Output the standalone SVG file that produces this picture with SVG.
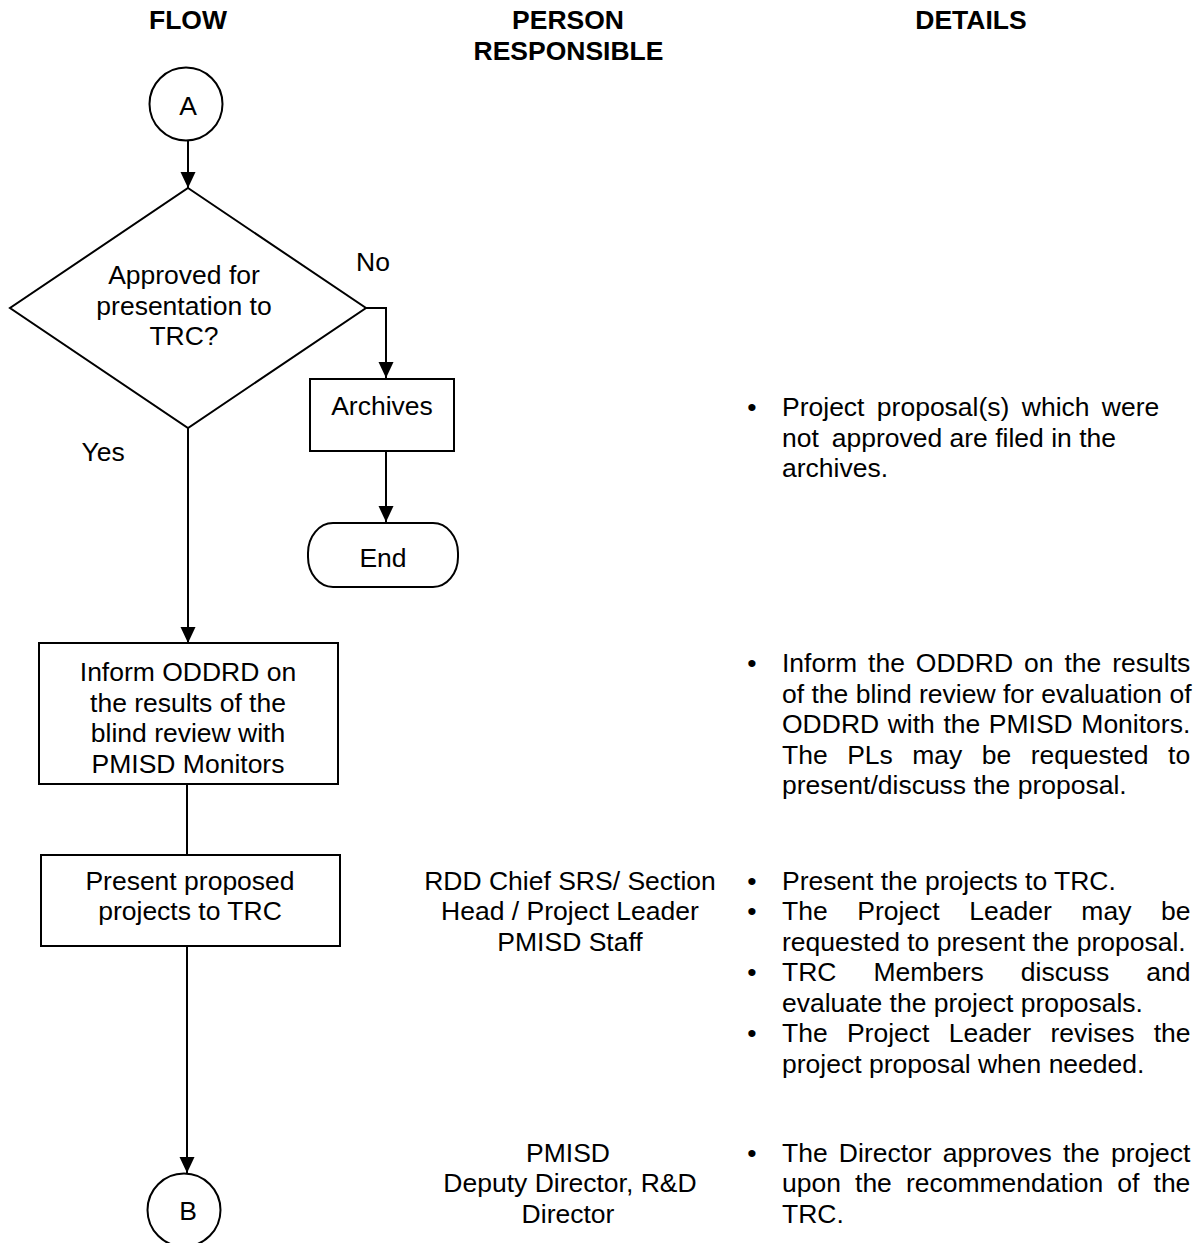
<svg xmlns="http://www.w3.org/2000/svg" width="1201" height="1243" viewBox="0 0 1201 1243">
  <style>
    .t { font-family: "Liberation Sans", Arial, sans-serif; font-size: 26.5px; fill: #000; }
    .c { text-anchor: middle; }
    .h { font-weight: bold; }
    .shape { fill: #fff; stroke: #000; stroke-width: 2; }
    .edge { fill: none; stroke: #000; stroke-width: 2; }
  </style>
  <defs>
    <marker id="arrow" markerUnits="userSpaceOnUse" markerWidth="16" markerHeight="16" refX="16" refY="8" orient="auto">
      <path d="M0,0.5 L16,8 L0,15.5 z" fill="#000"/>
    </marker>
  </defs>
  <rect width="1201" height="1243" fill="#fff"/>

  <!-- column headings -->
  <g id="headings" class="t h">
    <text class="c" x="188" y="29">FLOW</text>
    <text class="c" x="568" y="29">PERSON</text>
    <text class="c" x="568.5" y="59.5">RESPONSIBLE</text>
    <text class="c" x="971" y="29">DETAILS</text>
  </g>

  <!-- connectors -->
  <g id="connectors">
    <path class="edge" d="M188,141 V188" marker-end="url(#arrow)"/>
    <path class="edge" d="M366,308 H386 V378" marker-end="url(#arrow)"/>
    <path class="edge" d="M386,451 V522" marker-end="url(#arrow)"/>
    <path class="edge" d="M188,428 V643" marker-end="url(#arrow)"/>
    <path class="edge" d="M187,784 V855"/>
    <path class="edge" d="M187,946 V1173" marker-end="url(#arrow)"/>
    <text class="t" x="356" y="271">No</text>
    <text class="t" x="81.5" y="461">Yes</text>
  </g>

  <!-- flow nodes -->
  <g id="node-a">
    <circle class="shape" cx="186" cy="104" r="36.5"/>
    <text class="t c" x="188" y="115">A</text>
  </g>
  <g id="node-decision">
    <polygon class="shape" points="188,188 366,308 188,428 10,308"/>
    <text class="t c" x="184" y="284">Approved for</text>
    <text class="t c" x="184" y="314.5">presentation to</text>
    <text class="t c" x="184" y="345">TRC?</text>
  </g>
  <g id="node-archives">
    <rect class="shape" x="310" y="379" width="144" height="72"/>
    <text class="t c" x="382" y="414.5">Archives</text>
  </g>
  <g id="node-end">
    <rect class="shape" x="308" y="523" width="150" height="64" rx="25" ry="30"/>
    <text class="t c" x="383" y="567">End</text>
  </g>
  <g id="node-inform">
    <rect class="shape" x="39" y="643" width="299" height="141"/>
    <text class="t c" x="188" y="681">Inform ODDRD on</text>
    <text class="t c" x="188" y="711.5">the results of the</text>
    <text class="t c" x="188" y="742">blind review with</text>
    <text class="t c" x="188" y="772.5">PMISD Monitors</text>
  </g>
  <g id="node-present">
    <rect class="shape" x="41" y="855" width="299" height="91"/>
    <text class="t c" x="190" y="889.5">Present proposed</text>
    <text class="t c" x="190" y="920">projects to TRC</text>
  </g>
  <g id="node-b">
    <circle class="shape" cx="184" cy="1210" r="36.5"/>
    <text class="t c" x="188" y="1220">B</text>
  </g>

  <!-- person responsible column -->
  <g id="person-present" class="t c">
    <text x="570" y="889.5">RDD Chief SRS/ Section</text>
    <text x="570" y="920">Head / Project Leader</text>
    <text x="570" y="950.5">PMISD Staff</text>
  </g>
  <g id="person-approve" class="t c">
    <text x="568" y="1161.5">PMISD</text>
    <text x="570" y="1192">Deputy Director, R&amp;D</text>
    <text x="568" y="1222.5">Director</text>
  </g>

  <!-- details column -->
  <g id="details-archives" class="t">
    <text class="c" x="752" y="416">•</text>
    <text x="782" y="416" word-spacing="5">Project proposal(s) which were</text>
    <text x="782" y="446.5">not</text>
    <text x="831.7" y="446.5">approved are filed in the</text>
    <text x="782" y="477">archives.</text>
  </g>
  <g id="details-inform" class="t">
    <text class="c" x="752" y="672">•</text>
    <text x="782" y="672" word-spacing="3.6">Inform the ODDRD on the results</text>
    <text x="782" y="702.5">of the blind review for evaluation of</text>
    <text x="782" y="733" word-spacing="1.2">ODDRD with the PMISD Monitors.</text>
    <text x="782" y="763.5" word-spacing="12.1">The PLs may be requested to</text>
    <text x="782" y="794">present/discuss the proposal.</text>
  </g>
  <g id="details-present" class="t">
    <text class="c" x="752" y="889.5">•</text>
    <text x="782" y="889.5">Present the projects to TRC.</text>
    <text class="c" x="752" y="920">•</text>
    <text x="782" y="920" word-spacing="22.2">The Project Leader may be</text>
    <text x="782" y="950.5">requested to present the proposal.</text>
    <text class="c" x="752" y="981">•</text>
    <text x="782" y="981" word-spacing="29.6">TRC Members discuss and</text>
    <text x="782" y="1011.5">evaluate the project proposals.</text>
    <text class="c" x="752" y="1042">•</text>
    <text x="782" y="1042" word-spacing="11.9">The Project Leader revises the</text>
    <text x="782" y="1072.5">project proposal when needed.</text>
  </g>
  <g id="details-approve" class="t">
    <text class="c" x="752" y="1161.5">•</text>
    <text x="782" y="1161.5" word-spacing="3.8">The Director approves the project</text>
    <text x="782" y="1192" word-spacing="6.7">upon the recommendation of the</text>
    <text x="782" y="1222.5">TRC.</text>
  </g>
</svg>
